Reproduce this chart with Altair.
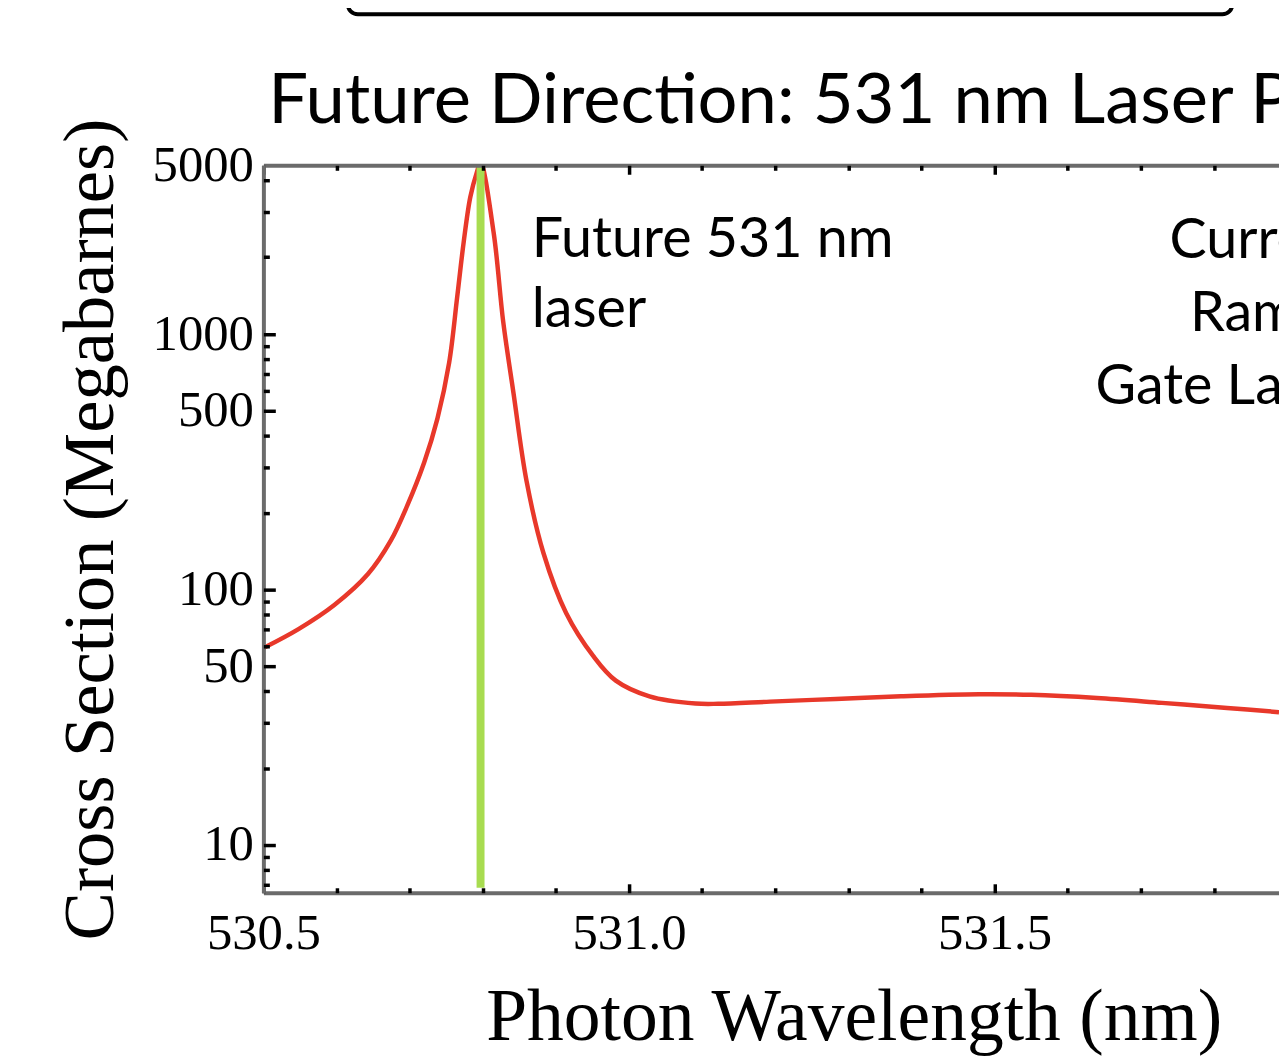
import altair as alt
import pandas as pd

# ---- data ----
wavelength_nm = [530.500, 530.548, 530.597, 530.643, 530.674, 530.697, 530.720, 530.738,
                 530.754, 530.765, 530.774, 530.783, 530.792, 530.797, 530.815, 530.828,
                 530.842, 530.860, 530.883, 530.914, 530.951, 530.982, 531.028, 531.091,
                 531.122, 531.193, 531.283, 531.372, 531.479, 531.550, 531.640, 531.729,
                 531.818, 531.889]
cross_section_mb = [59, 70, 87, 115, 155, 214, 315, 467,
                    771, 1393, 2301, 3444, 4308, 4700, 2484, 1117,
                    589, 265, 139, 81, 55, 44, 38.2, 35.8,
                    35.7, 36.4, 37.3, 38.2, 38.9, 38.7, 37.6, 36.0,
                    34.4, 33.1]

laser_nm = [530.797]
laser_low = [6.8]
laser_high = [4580]

ann_left_text = ["Future 531 nm", "laser"]
ann_left_x = [530.867, 530.867]
ann_left_y = [2012, 1065]

ann_right_text = ["Current", "Raman", "Gate Laser"]
ann_right_x = [531.995, 531.995, 531.995]
ann_right_y = [1994, 1027, 534]

x_domain = [530.5, 531.889]
y_domain = [6.5, 4580]
x_major = [530.5, 531.0, 531.5]
x_minor = [530.6, 530.7, 530.8, 530.9, 531.1, 531.2, 531.3, 531.4, 531.6, 531.7, 531.8]
y_label_values = [10, 50, 100, 500, 1000, 4580]
y_major = [10, 50, 100, 500, 1000]
y_minor = [7, 8, 9, 20, 30, 40, 60, 70, 80, 90, 200, 300, 400,
           600, 700, 800, 900, 2000, 3000, 4000]

title_text = "Future Direction: 531 nm Laser Photodetachment"

SANS = "Lato"
SERIF = "Liberation Serif"
FRAME = "#6b6b6b"

curve_df = pd.DataFrame({"wavelength": wavelength_nm, "cross_section": cross_section_mb})
laser_df = pd.DataFrame({"wavelength": laser_nm, "lo": laser_low, "hi": laser_high})
annL_df = pd.DataFrame({"t": ann_left_text, "wavelength": ann_left_x, "cross_section": ann_left_y})
annR_df = pd.DataFrame({"t": ann_right_text, "wavelength": ann_right_x, "cross_section": ann_right_y})
title_df = pd.DataFrame({"t": [title_text]})

x_scale = alt.Scale(domain=x_domain, nice=False, zero=False)
y_scale = alt.Scale(type="log", domain=y_domain, nice=False)


def tick_axis(orient, values, size):
    return alt.Axis(orient=orient, values=values, offset=-size, tickSize=size, ticks=True,
                    tickColor="black", tickWidth=3.5, labels=False, domain=False,
                    grid=False, title=None, zindex=2)


x_label_axis = alt.Axis(orient="bottom", values=x_major, format=".1f", labelFont=SERIF,
                        labelFontSize=51, labelColor="black", labelPadding=16,
                        labelFlush=False, labelOverlap=False, ticks=False, tickSize=0,
                        domain=True, domainColor=FRAME, domainWidth=4, grid=False,
                        title="Photon Wavelength (nm)", titleFont=SERIF, titleFontSize=74,
                        titleFontWeight="normal", titleColor="black", titleX=594,
                        titleY=148, titleAlign="center", titleBaseline="alphabetic", zindex=2)

y_label_axis = alt.Axis(orient="left", values=y_label_values,
                        labelExpr="datum.value > 4000 ? '5000' : format(datum.value, 'd')",
                        labelFont=SERIF, labelFontSize=51, labelColor="black",
                        labelPadding=10, labelFlush=False, labelOverlap=False,
                        ticks=False, tickSize=0, domain=True, domainColor=FRAME,
                        domainWidth=4, grid=False,
                        title="Cross Section (Megabarnes)", titleFont=SERIF,
                        titleFontSize=73, titleFontWeight="normal", titleColor="black",
                        titleAngle=270, titleX=-152, titleY=366, titleAlign="center",
                        titleBaseline="alphabetic", zindex=2)

top_domain_axis = alt.Axis(orient="top", labels=False, ticks=False, tickSize=0, domain=True,
                           domainColor=FRAME, domainWidth=4, grid=False, title=None, zindex=2)


def axis_layer(x_axis, y_axis):
    return alt.Chart(curve_df).mark_point(opacity=0).encode(
        x=alt.X("wavelength:Q", scale=x_scale, axis=x_axis),
        y=alt.Y("cross_section:Q", scale=y_scale, axis=y_axis),
    )


curve = alt.Chart(curve_df).mark_line(color="#e8382a", strokeWidth=4.5, clip=True,
                                      interpolate="catmull-rom").encode(
    x=alt.X("wavelength:Q", scale=x_scale, axis=x_label_axis),
    y=alt.Y("cross_section:Q", scale=y_scale, axis=y_label_axis),
)

laser = alt.Chart(laser_df).mark_rule(color="#a8dc50", strokeWidth=8, clip=True).encode(
    x=alt.X("wavelength:Q", scale=x_scale, axis=tick_axis("bottom", x_major, 9)),
    y=alt.Y("lo:Q", scale=y_scale, axis=tick_axis("left", y_major, 12)),
    y2="hi:Q",
)

textL = alt.Chart(annL_df).mark_text(font=SANS, fontSize=56, align="left",
                                     baseline="alphabetic", color="black").encode(
    x=alt.X("wavelength:Q", scale=x_scale, axis=tick_axis("bottom", x_minor, 5)),
    y=alt.Y("cross_section:Q", scale=y_scale, axis=tick_axis("left", y_minor, 6)),
    text="t:N",
)

textR = alt.Chart(annR_df).mark_text(font=SANS, fontSize=56, align="right",
                                     baseline="alphabetic", color="black").encode(
    x=alt.X("wavelength:Q", scale=x_scale, axis=None),
    y=alt.Y("cross_section:Q", scale=y_scale, axis=None),
    text="t:N",
)

title = alt.Chart(title_df).mark_text(font=SANS, fontSize=71, align="left",
                                      baseline="alphabetic", color="black").encode(
    x=alt.value(5), y=alt.value(-43), text="t:N"
)

box = alt.Chart(pd.DataFrame({"k": [0]})).mark_rect(
    filled=False, stroke="black", strokeWidth=4, cornerRadius=10, clip=False
).encode(x=alt.value(85), x2=alt.value(975), y=alt.value(-230), y2=alt.value(-152))

chart = alt.layer(
    curve,
    laser,
    textL,
    textR,
    title,
    axis_layer(top_domain_axis, None),
    axis_layer(tick_axis("top", x_major, 9), None),
    axis_layer(tick_axis("top", x_minor, 5), None),
    box,
).resolve_axis(x="independent", y="independent").properties(
    width=1022,
    height=732,
    autosize=alt.AutoSizeParams(type="none"),
    padding={"left": 257, "top": 155, "right": 0, "bottom": 163},
).configure_view(stroke=None).configure(background="white")

chart.save("out.html", embed_options={"renderer": "svg", "actions": False})
